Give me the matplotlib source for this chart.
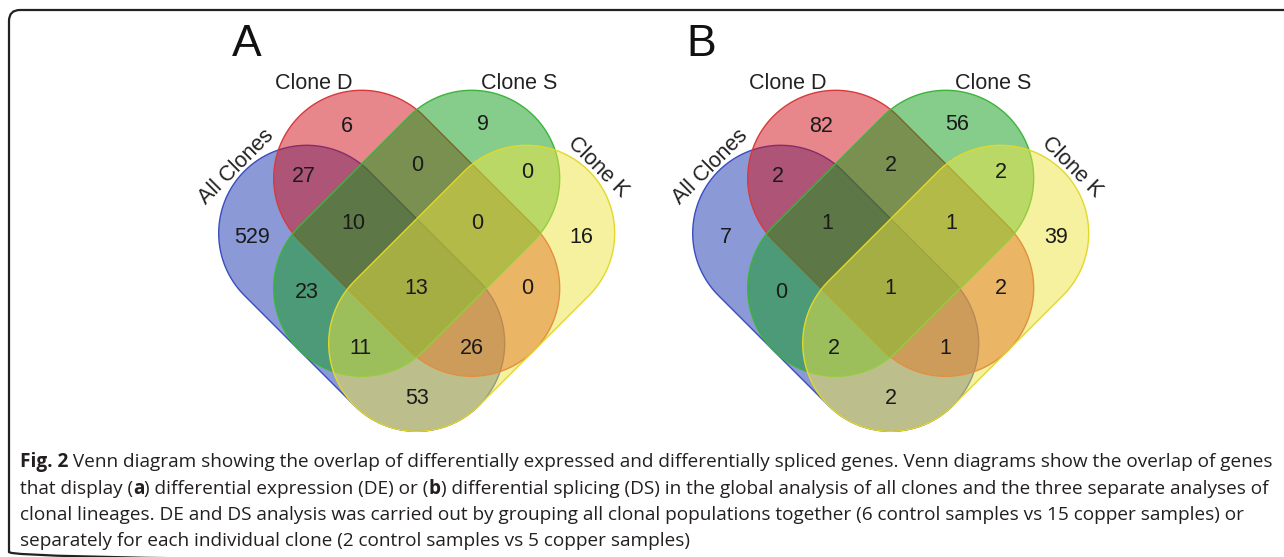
import numpy as np
import matplotlib.pyplot as plt
from matplotlib.patches import Polygon, FancyBboxPatch

W, H = 1284, 557

set_names = ['All Clones', 'Clone D', 'Clone S', 'Clone K']

# regions: A = All Clones, D = Clone D, S = Clone S, K = Clone K
regions = ['A', 'D', 'S', 'K', 'AD', 'DS', 'SK', 'ADS', 'DSK',
           'AS', 'ADSK', 'DK', 'ASK', 'ADK', 'AK']
de_counts = [529, 6, 9, 16, 27, 0, 0, 10, 0, 23, 13, 0, 11, 26, 53]
ds_counts = [7, 82, 56, 39, 2, 2, 2, 1, 1, 0, 1, 2, 2, 1, 2]

caption = [
    [("Fig. 2", "bold"),
     (" Venn diagram showing the overlap of differentially expressed and "
      "differentially spliced genes. Venn diagrams show the overlap of genes", "normal")],
    [("that display (", "normal"), ("a", "bold"),
     (") differential expression (DE) or (", "normal"), ("b", "bold"),
     (") differential splicing (DS) in the global analysis of all clones and "
      "the three separate analyses of", "normal")],
    [("clonal lineages. DE and DS analysis was carried out by grouping all clonal "
      "populations together (6 control samples vs 15 copper samples) or", "normal")],
    [("separately for each individual clone (2 control samples vs 5 copper samples)",
      "normal")],
]

# shape layout in units of U pixels, y up
U = 55.0
R = 1.6
shapes = [((-2, 1), (0, -1)),   # All Clones
          ((-1, 2), (1, 0)),    # Clone D
          ((1, 2), (-1, 0)),    # Clone S
          ((2, 1), (0, -1))]    # Clone K
face = ['#1937af80', '#d10f1980', '#0f9b1980', '#ede54180']
edge = ['#3a4cc0', '#d83a3a', '#3cb43c', '#e2d82a']

region_xy = {
    'A': (-3.0, 0.93), 'D': (-1.27, 2.95), 'S': (1.2, 2.98), 'K': (3.0, 0.93),
    'AD': (-2.05, 2.03), 'DS': (0.0, 2.23), 'SK': (2.0, 2.1),
    'ADS': (-1.15, 1.18), 'DSK': (1.1, 1.18),
    'AS': (-2.0, -0.08), 'ADSK': (0.0, 0.0), 'DK': (2.0, 0.0),
    'ASK': (-1.03, -1.1), 'ADK': (1.0, -1.1), 'AK': (0.0, -2.0),
}


def stadium(p1, p2, r, n=80):
    p1, p2 = np.asarray(p1, float), np.asarray(p2, float)
    d = p2 - p1
    ang = np.arctan2(d[1], d[0])
    t1 = np.linspace(ang + np.pi / 2, ang + 3 * np.pi / 2, n)
    t2 = np.linspace(ang - np.pi / 2, ang + np.pi / 2, n)
    a1 = p1 + r * np.c_[np.cos(t1), np.sin(t1)]
    a2 = p2 + r * np.c_[np.cos(t2), np.sin(t2)]
    return np.vstack([a1, a2])


fig = plt.figure(figsize=(W / 100, H / 100), dpi=100)
ax = fig.add_axes([0, 0, 1, 1])
ax.set_xlim(0, W)
ax.set_ylim(H, 0)
ax.axis('off')

venn_font = ['Liberation Sans', 'DejaVu Sans']


def venn4(cx, cy, counts, letter, letter_xy):
    to_px = lambda p: np.c_[cx + p[:, 0] * U, cy - p[:, 1] * U]
    for (p1, p2), fc, ec in zip(shapes, face, edge):
        pts = to_px(stadium(p1, p2, R))
        ax.add_patch(Polygon(pts, closed=True, facecolor=fc,
                             edgecolor=ec, lw=1.0))
    for key, n in zip(regions, counts):
        x, y = region_xy[key]
        ax.text(cx + x * U, cy - y * U, str(n), ha='center', va='center',
                fontsize=15.5, family=venn_font, color='#1a1a1a')
    ax.text(cx - 1.87 * U, cy - 3.73 * U, set_names[1], ha='center', va='center',
            fontsize=15.5, family=venn_font, color='#222222')
    ax.text(cx + 1.87 * U, cy - 3.73 * U, set_names[2], ha='center', va='center',
            fontsize=15.5, family=venn_font, color='#222222')
    ax.text(cx - 3.27 * U, cy - 2.21 * U, set_names[0], ha='center', va='center',
            rotation=45, rotation_mode='anchor',
            fontsize=15.5, family=venn_font, color='#222222')
    ax.text(cx + 3.30 * U, cy - 2.21 * U, set_names[3], ha='center', va='center',
            rotation=-45, rotation_mode='anchor',
            fontsize=15.5, family=venn_font, color='#222222')
    ax.text(letter_xy[0], letter_xy[1], letter, ha='center', va='center',
            fontsize=32, family=venn_font, color='#111111')


venn4(416.7, 288.3, de_counts, 'A', (246.7, 44))
venn4(890.7, 288.3, ds_counts, 'B', (701.7, 44))

# outer frame; right and bottom edges fall outside the figure
ax.add_patch(FancyBboxPatch((9, 10), 1400, 553,
                            boxstyle='round,pad=0,rounding_size=11',
                            fill=False, lw=1.6, ec='#222222', clip_on=False))

# caption, sized so the first line fills the frame width
cap_font = ['Open Sans', 'DejaVu Sans']
renderer = fig.canvas.get_renderer()


def put_runs(x, y, runs, size, draw=True):
    x0 = x
    for s, weight in runs:
        t = ax.text(x, y, s, fontsize=size, fontweight=weight, family=cap_font,
                    ha='left', va='baseline', color='#231f20')
        x += t.get_window_extent(renderer).width
        if not draw:
            t.remove()
    return x - x0


w = put_runs(20, 0, caption[0], 12, draw=False)
cap_size = 12 * 1248 / w
for runs, yb in zip(caption, [467, 494, 520, 546]):
    put_runs(20, yb, runs, cap_size)

fig.savefig('out.png', dpi=100)
